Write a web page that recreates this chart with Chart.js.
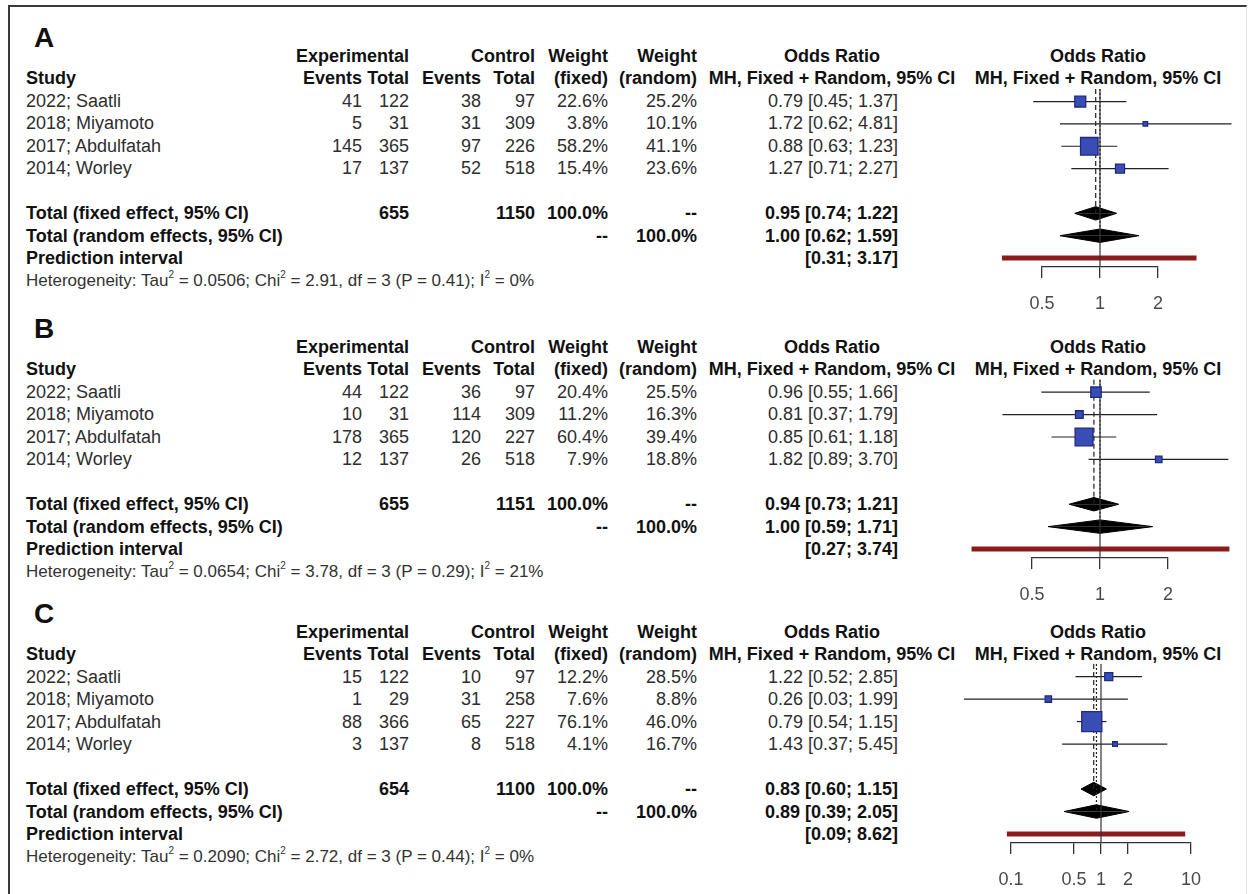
<!DOCTYPE html>
<html>
<head>
<meta charset="utf-8">
<script src="https://cdn.jsdelivr.net/npm/chart.js@4.4.1/dist/chart.umd.min.js"></script>
<style>
  body { margin: 0; background: #fff; }
  #page { position: relative; width: 1249px; height: 894px; overflow: hidden; font-family: "Liberation Sans", Arial, sans-serif; }
  #frame { position: absolute; left: 8px; top: 5px; width: 1236px; height: 900px; border-top: 2px solid #3a3a3a; border-left: 2px solid #3a3a3a; border-right: 1px solid #e2e2e2; }
  .t { position: absolute; font-size: 18px; line-height: 22px; height: 22px; white-space: nowrap; color: #2e2e2e; }
  .b { font-weight: bold; color: #111; }
  .het { font-size: 17px; color: #333; }
  .lab { font-size: 28px; line-height: 30px; height: 30px; font-weight: bold; color: #111; }
  sup { font-size: 10px; line-height: 1; vertical-align: top; position: relative; top: 0px; }
  canvas { position: absolute; }
</style>
</head>
<body>
<div id="page"><div id="frame"></div></div>
<script>
// ---- data (one entry per panel A, B, C) ----
const panelLabels = ["A", "B", "C"]
const studies = ["2022; Saatli", "2018; Miyamoto", "2017; Abdulfatah", "2014; Worley"]

const expEvents  = [[41, 5, 145, 17], [44, 10, 178, 12], [15, 1, 88, 3]]
const expTotal   = [[122, 31, 365, 137], [122, 31, 365, 137], [122, 29, 366, 137]]
const ctrlEvents = [[38, 31, 97, 52], [36, 114, 120, 26], [10, 31, 65, 8]]
const ctrlTotal  = [[97, 309, 226, 518], [97, 309, 227, 518], [97, 258, 227, 518]]
const weightFixed  = [[22.6, 3.8, 58.2, 15.4], [20.4, 11.2, 60.4, 7.9], [12.2, 7.6, 76.1, 4.1]]
const weightRandom = [[25.2, 10.1, 41.1, 23.6], [25.5, 16.3, 39.4, 18.8], [28.5, 8.8, 46.0, 16.7]]

const oddsRatio = [[0.79, 1.72, 0.88, 1.27], [0.96, 0.81, 0.85, 1.82], [1.22, 0.26, 0.79, 1.43]]
const ciLower   = [[0.45, 0.62, 0.63, 0.71], [0.55, 0.37, 0.61, 0.89], [0.52, 0.03, 0.54, 0.37]]
const ciUpper   = [[1.37, 4.81, 1.23, 2.27], [1.66, 1.79, 1.18, 3.70], [2.85, 1.99, 1.15, 5.45]]

// pooled [estimate, lower, upper]
const fixedEffect  = [[0.95, 0.74, 1.22], [0.94, 0.73, 1.21], [0.83, 0.60, 1.15]]
const randomEffect = [[1.00, 0.62, 1.59], [1.00, 0.59, 1.71], [0.89, 0.39, 2.05]]
const predInterval = [[0.31, 3.17], [0.27, 3.74], [0.09, 8.62]]

const tau2 = [0.0506, 0.0654, 0.2090]
const chi2 = [2.91, 3.78, 2.72]
const dfs = [3, 3, 3]
const pValues = [0.41, 0.29, 0.44]
const iSquared = [0, 21, 0]

const axisTicks = [[0.5, 1, 2], [0.5, 1, 2], [0.1, 0.5, 1, 2, 10]]

// ---- layout ----
const W = 1249
const panelTop = [0, 291, 576]
const rowY = (p, i) => panelTop[p] + 100.5 + 22.5 * i
const col = { expEv: 362, expTot: 409, ctlEv: 481, ctlTot: 535, wFix: 608, wRan: 697, or: 898 }
const orCenter = 832
const plotCenter = 1098
const plotLeft = [1042, 1032, 1011]
const plotRight = [1158, 1168, 1191]
const yMin = -0.56
const yMax = 7.4

const page = document.getElementById("page")

function txt(html, x, y, align, cls) {
  const d = document.createElement("div")
  d.className = "t" + (cls ? " " + cls : "")
  d.innerHTML = html
  d.style.top = (y - 11) + "px"
  if (align === "r") d.style.right = (W - x) + "px"
  else if (align === "c") { d.style.left = x + "px"; d.style.transform = "translateX(-50%)" }
  else d.style.left = x + "px"
  page.appendChild(d)
  return d
}

const ci = (lo, hi) => "[" + lo.toFixed(2) + "; " + hi.toFixed(2) + "]"
const pct = (v) => v.toFixed(1) + "%"

function drawTable(p) {
  const lab = txt(panelLabels[p], 34, panelTop[p] + 38, "l", "lab")
  lab.style.top = (panelTop[p] + 23) + "px"

  // headers
  let y = rowY(p, -2)
  txt("Experimental", col.expTot, y, "r", "b")
  txt("Control", col.ctlTot, y, "r", "b")
  txt("Weight", col.wFix, y, "r", "b")
  txt("Weight", col.wRan, y, "r", "b")
  txt("Odds Ratio", orCenter, y, "c", "b")
  txt("Odds Ratio", plotCenter, y, "c", "b")
  y = rowY(p, -1)
  txt("Study", 26, y, "l", "b")
  txt("Events", col.expEv, y, "r", "b")
  txt("Total", col.expTot, y, "r", "b")
  txt("Events", col.ctlEv, y, "r", "b")
  txt("Total", col.ctlTot, y, "r", "b")
  txt("(fixed)", col.wFix, y, "r", "b")
  txt("(random)", col.wRan, y, "r", "b")
  txt("MH, Fixed + Random, 95% CI", orCenter, y, "c", "b")
  txt("MH, Fixed + Random, 95% CI", plotCenter, y, "c", "b")

  // studies
  studies.forEach((s, i) => {
    const yy = rowY(p, i)
    txt(s, 26, yy, "l")
    txt(expEvents[p][i], col.expEv, yy, "r")
    txt(expTotal[p][i], col.expTot, yy, "r")
    txt(ctrlEvents[p][i], col.ctlEv, yy, "r")
    txt(ctrlTotal[p][i], col.ctlTot, yy, "r")
    txt(pct(weightFixed[p][i]), col.wFix, yy, "r")
    txt(pct(weightRandom[p][i]), col.wRan, yy, "r")
    txt(oddsRatio[p][i].toFixed(2) + " " + ci(ciLower[p][i], ciUpper[p][i]), col.or, yy, "r")
  })

  // totals
  const sum = (a) => a.reduce((s, v) => s + v, 0)
  y = rowY(p, 5)
  txt("Total (fixed effect, 95% CI)", 26, y, "l", "b")
  txt(sum(expTotal[p]), col.expTot, y, "r", "b")
  txt(sum(ctrlTotal[p]), col.ctlTot, y, "r", "b")
  txt("100.0%", col.wFix, y, "r", "b")
  txt("--", col.wRan, y, "r", "b")
  txt(fixedEffect[p][0].toFixed(2) + " " + ci(fixedEffect[p][1], fixedEffect[p][2]), col.or, y, "r", "b")
  y = rowY(p, 6)
  txt("Total (random effects, 95% CI)", 26, y, "l", "b")
  txt("--", col.wFix, y, "r", "b")
  txt("100.0%", col.wRan, y, "r", "b")
  txt(randomEffect[p][0].toFixed(2) + " " + ci(randomEffect[p][1], randomEffect[p][2]), col.or, y, "r", "b")
  y = rowY(p, 7)
  txt("Prediction interval", 26, y, "l", "b")
  txt(ci(predInterval[p][0], predInterval[p][1]), col.or, y, "r", "b")

  y = rowY(p, 8)
  txt("Heterogeneity: Tau<sup>2</sup> = " + tau2[p].toFixed(4) + "; Chi<sup>2</sup> = " + chi2[p].toFixed(2) +
      ", df = " + dfs[p] + " (P = " + pValues[p].toFixed(2) + "); I<sup>2</sup> = " + iSquared[p] + "%",
      26, y, "l", "het")
}

// フォレストプロット
function initForest(p) {
  const canvas = document.createElement("canvas")
  canvas.width = 309
  canvas.height = 240
  canvas.style.left = "940px"
  canvas.style.top = (panelTop[p] + 80) + "px"
  page.appendChild(canvas)

  const line = (data, extra) => Object.assign({
    data, showLine: true, pointRadius: 0, borderWidth: 1.2,
    borderColor: "#222", backgroundColor: "#222", fill: false, clip: false, tension: 0,
  }, extra)

  const datasets = []
  const fe = fixedEffect[p]
  const re = randomEffect[p]
  const dh = 0.3

  // squares
  datasets.push({
    data: oddsRatio[p].map((v, i) => ({ x: v, y: i })),
    showLine: false, pointStyle: "rect", clip: false, order: 0,
    pointRadius: weightFixed[p].map((w) => 2.3 * Math.sqrt(w) / Math.SQRT2),
    backgroundColor: "#3a4db4", borderColor: "#1d2a82", borderWidth: 1.3,
  })
  // reference + pooled lines
  datasets.push(line([{ x: 1, y: yMin }, { x: 1, y: yMax }], { order: 1, borderColor: "#333" }))
  datasets.push(line([{ x: fe[0], y: yMin }, { x: fe[0], y: 5 }], { order: 1, borderDash: [5, 3] }))
  datasets.push(line([{ x: re[0], y: yMin }, { x: re[0], y: 6 }], { order: 1, borderDash: [2, 2] }))
  // study CIs
  studies.forEach((s, i) => {
    datasets.push(line([{ x: ciLower[p][i], y: i }, { x: ciUpper[p][i], y: i }], { order: 2 }))
  })
  // diamonds
  ;[[fe, 5], [re, 6]].forEach(([d, row]) => {
    ;[-dh, dh].forEach((h) => {
      datasets.push(line([{ x: d[1], y: row }, { x: d[0], y: row + h }, { x: d[2], y: row }],
        { order: 1, fill: { value: row }, borderColor: "#000", backgroundColor: "#000", borderWidth: 1 }))
    })
  })
  // prediction interval
  datasets.push(line([{ x: predInterval[p][0], y: 7 }, { x: predInterval[p][1], y: 7 }],
    { order: 3, borderColor: "#8b1c1c", borderWidth: 5, borderCapStyle: "butt" }))

  new Chart(canvas.getContext("2d"), {
    type: "line",
    data: { datasets },
    options: {
      responsive: false,
      animation: false,
      events: [],
      layout: { padding: { left: plotLeft[p] - 940, right: W - plotRight[p], top: 8, bottom: 3 } },
      plugins: { legend: { display: false }, tooltip: { enabled: false } },
      scales: {
        x: {
          type: "logarithmic",
          min: axisTicks[p][0],
          max: axisTicks[p][axisTicks[p].length - 1],
          afterBuildTicks: (scale) => { scale.ticks = axisTicks[p].map((v) => ({ value: v })) },
          afterFit: (scale) => { scale.height = 50 },
          grid: { drawOnChartArea: false, drawTicks: true, tickLength: 11, color: "#333", lineWidth: 1.3 },
          border: { display: true, color: "#333", width: 1.3 },
          ticks: {
            autoSkip: false, maxRotation: 0, padding: 15, color: "#4a4a4a",
            font: { family: "Liberation Sans", size: 18 },
            callback: (v) => String(v),
          },
        },
        y: { type: "linear", reverse: true, min: yMin, max: yMax, display: false },
      },
    },
  })
}

document.addEventListener("DOMContentLoaded", () => {
  for (let p = 0; p < 3; p++) {
    drawTable(p)
    initForest(p)
  }
})
</script>
</body>
</html>
